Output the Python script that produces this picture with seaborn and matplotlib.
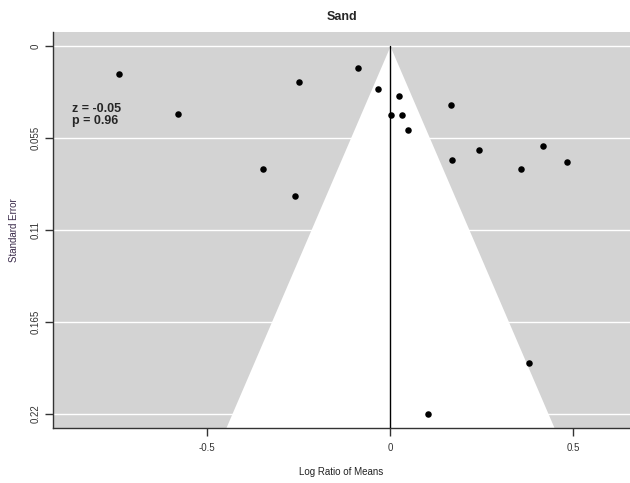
import numpy as np
import pandas as pd
import matplotlib
matplotlib.use("Agg")
import matplotlib.pyplot as plt
import seaborn as sns

# Data
log_ratio = [-0.738, -0.579, -0.087, -0.247, -0.033, 0.025, 0.003, 0.032, 0.048,
             0.166, -0.346, -0.260, 0.168, 0.244, 0.356, 0.416, 0.483, 0.380, 0.105]
std_error = [0.0168, 0.0409, 0.0130, 0.0215, 0.0257, 0.0297, 0.0413, 0.0414, 0.0500,
             0.0355, 0.0736, 0.0895, 0.0682, 0.0620, 0.0738, 0.0600, 0.0694, 0.1896, 0.2203]
y_ticks = [0, 0.055, 0.11, 0.165, 0.22]
y_tick_labels = ["0", "0.055", "0.11", "0.165", "0.22"]
x_ticks = [-0.5, 0, 0.5]
x_tick_labels = ["-0.5", "0", "0.5"]
title = "Sand"
stats_text = "z = -0.05\np = 0.96"

df = pd.DataFrame({"lr": log_ratio, "se": std_error})

sns.set_style("white")
plt.rcParams["font.family"] = ["Liberation Sans", "DejaVu Sans"]

fig = plt.figure(figsize=(6.3, 4.83), dpi=100)
ax = fig.add_axes([53 / 630, 55 / 483, 1 - 53 / 630, (428 - 32) / 483])

xlim = (-0.919, 0.6545)
ylim = (0.2285, -0.0084)
ax.set_facecolor("#d3d3d3")

# grid lines
for yt in y_ticks:
    ax.axhline(yt, color="white", lw=1.0, zorder=1)

# funnel
se_grid = np.linspace(0, ylim[0], 50)
ax.fill_betweenx(se_grid, -1.96 * se_grid, 1.96 * se_grid, color="white", lw=0, zorder=2)

# vertical reference line
ax.plot([0, 0], [0, ylim[0]], color="black", lw=1.0, zorder=3)

sns.scatterplot(data=df, x="lr", y="se", ax=ax, color="black", s=22,
                edgecolor="black", linewidth=0, zorder=4)

ax.set_xlim(*xlim)
ax.set_ylim(*ylim)

ax.set_yticks(y_ticks)
ax.set_yticklabels(y_tick_labels, rotation=90, va="center", fontsize=7)
ax.set_xticks(x_ticks)
ax.set_xticklabels(x_tick_labels, fontsize=7)
ax.tick_params(axis="both", direction="out", length=6, width=1, colors="#333333",
               left=True, bottom=True)
ax.tick_params(axis="y", pad=3)
ax.tick_params(axis="x", pad=5)

for side in ["top", "right"]:
    ax.spines[side].set_visible(False)
for side in ["left", "bottom"]:
    ax.spines[side].set_color("#333333")
    ax.spines[side].set_linewidth(1.0)

ax.set_xlabel("Log Ratio of Means", fontsize=7, color="#222222", labelpad=10)
ax.set_ylabel("Standard Error", fontsize=7, color="#3a2a4a", labelpad=8)
ax.set_title(title, fontsize=9, fontweight="bold", pad=9)

ax.text(-0.867, 0.041, stats_text, fontsize=9, fontweight="bold", va="center",
        ha="left", linespacing=1.0, zorder=5)

fig.savefig("out.png", dpi=100)
